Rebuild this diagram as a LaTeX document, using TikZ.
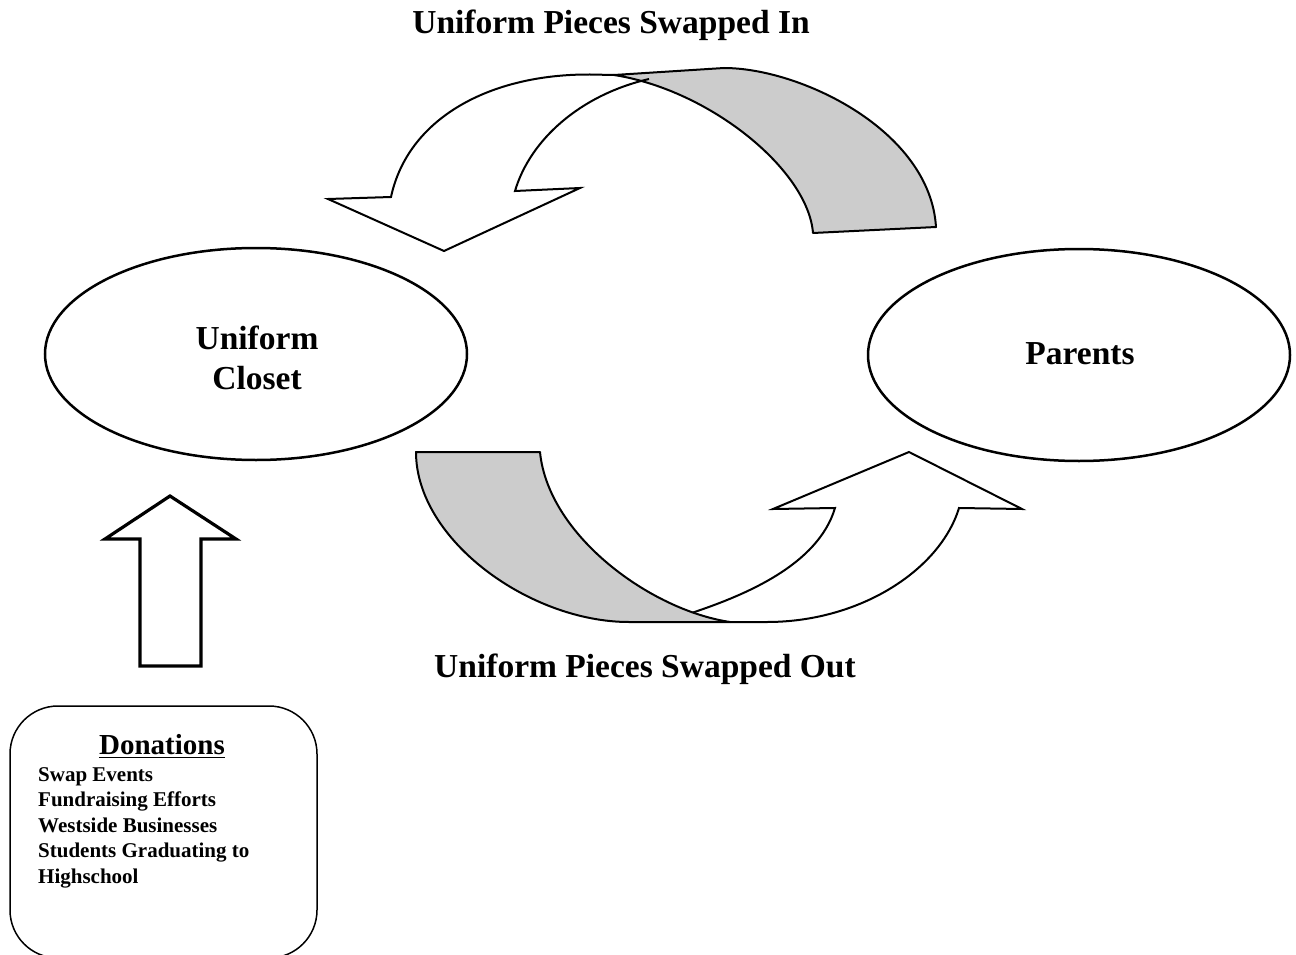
\documentclass[tikz,border=0pt]{standalone}
\usepackage{fontspec}
\setmainfont{Liberation Serif}
\usetikzlibrary{shapes.geometric}
\definecolor{bandgray}{HTML}{CCCCCC}
\begin{document}
\begin{tikzpicture}[x=1pt,y=-1pt,
  oval/.style={draw, ellipse, line width=2.5pt, minimum width=422pt, minimum height=212pt, inner sep=0pt},
  ovaltext/.style={inner sep=0pt, align=center, font=\fontsize{33.5}{40}\selectfont\bfseries},
  band/.style={draw, fill=bandgray, line width=2pt, line join=round},
  outline/.style={draw, line width=2pt, line join=miter},
  blockarrow/.style={draw, line width=3.2pt, line join=miter},
  title/.style={anchor=base, inner sep=0pt, font=\fontsize{33.5}{40}\selectfont\bfseries},
  item/.style={anchor=base west, inner sep=0pt, font=\fontsize{21}{25}\selectfont\bfseries}]
\useasboundingbox (0,0) rectangle (1296,955);

% titles
\node[title] (tin) at (611,34) {Uniform Pieces Swapped In};
\node[title] (tout) at (645,677) {Uniform Pieces Swapped Out};

% ellipses
\node[oval] (closet) at (256,354) {};
\node[ovaltext] (closettext) at (257,358) {Uniform\\Closet};
\node[oval] (parents) at (1079,355) {};
\node[ovaltext] (parentstext) at (1080,354) {Parents};

% top curved arrow: shaded back band
\path[band] (614,75) -- (724,68) .. controls (800,68) and (930,130) .. (936,227)
  -- (813,233) .. controls (808,170) and (710,90) .. (614,75) -- cycle;
% top curved arrow: front with head
\path[outline] (649,79) .. controls (580,95) and (530,140) .. (515,191)
  -- (580,188) -- (444,251) -- (328,199) -- (391,197)
  .. controls (408,118) and (490,74) .. (590,74.5) -- (614,75);

% bottom curved arrow: shaded back band
\path[band] (416,452) -- (540,452) .. controls (548,535) and (650,610) .. (730,622)
  -- (629,622) .. controls (530,622) and (416,540) .. (416,452) -- cycle;
% bottom curved arrow: front with head
\path[outline] (693,612.5) .. controls (745,595) and (818,565) .. (835,508)
  -- (773,509) -- (909,452) -- (1022,509) -- (959,508)
  .. controls (940,570) and (860,622) .. (767,622) -- (730,622);

% up arrow
\path[blockarrow] (170,496) -- (236,539) -- (201,539) -- (201,666) -- (140,666)
  -- (140,539) -- (105,539) -- cycle;

% donations box
\node[draw, line width=1.5pt, rounded corners=48pt, minimum width=307pt, minimum height=252pt, inner sep=0pt] (box) at (163.5,832) {};
\node[anchor=base, inner sep=0pt, font=\fontsize{29}{31}\selectfont\bfseries] (dontitle) at (162,754) {Donations};
\draw[line width=1.6pt] ([yshift=-3.5pt]dontitle.base west) -- ([yshift=-3.5pt]dontitle.base east);
\node[item] (d1) at (38,781) {Swap Events};
\node[item] (d2) at (38,806.5) {Fundraising Efforts};
\node[item] (d3) at (38,832) {Westside Businesses};
\node[item] (d4) at (38,857.5) {Students Graduating to};
\node[item] (d5) at (38,883) {Highschool};
\end{tikzpicture}
\end{document}
